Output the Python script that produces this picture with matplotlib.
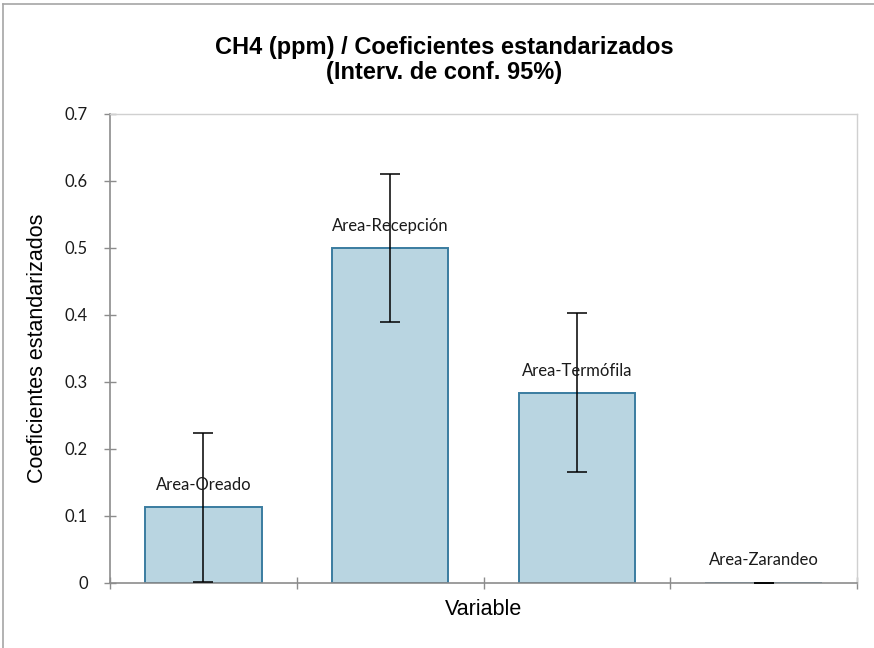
import matplotlib
matplotlib.use("Agg")
import matplotlib.pyplot as plt
from matplotlib.lines import Line2D
import numpy as np

categories = ["Area-Oreado", "Area-Recepción", "Area-Termófila", "Area-Zarandeo"]
values = [0.113, 0.499, 0.283, 0.0]
err_low = [0.0015, 0.389, 0.165, 0.0]
err_high = [0.224, 0.610, 0.402, 0.0]
yticks = [0, 0.1, 0.2, 0.3, 0.4, 0.5, 0.6, 0.7]
ytick_labels = ["0", "0.1", "0.2", "0.3", "0.4", "0.5", "0.6", "0.7"]

title = "CH4 (ppm) / Coeficientes estandarizados\n(Interv. de conf. 95%)"
xlabel = "Variable"
ylabel = "Coeficientes estandarizados"

fig = plt.figure(figsize=(8.74, 6.48), dpi=100)
ax = fig.add_axes([110/874, 1-582.7/648, (857-110)/874, (582.7-113.5)/648])

x = np.arange(len(categories))
vals = np.array(values)
yerr = np.vstack([vals - np.array(err_low), np.array(err_high) - vals])

ax.bar(x, vals, width=0.625, color="#B9D5E1", edgecolor="#3A7CA0", linewidth=1.4, zorder=2)
ax.errorbar(x, vals, yerr=yerr, fmt="none", ecolor="black", elinewidth=1.1,
            capsize=7.5, capthick=1.1, zorder=3)

for xi, v, lab in zip(x, vals, categories):
    ax.annotate(lab, (xi, v), xytext=(0, 16), textcoords="offset points",
                ha="center", va="center", fontsize=12, family="Lato", color="#1a1a1a", zorder=4)

ax.set_xlim(-0.5, len(categories) - 0.5)
ax.set_ylim(0, 0.7)
ax.set_yticks(yticks)
ax.set_yticklabels(ytick_labels, family="Lato", fontsize=12, color="#1a1a1a")
ax.set_xticks(np.arange(len(categories) + 1) - 0.5)
ax.set_xticklabels([])

ax.tick_params(axis="y", direction="inout", length=8, width=1, color="#8C8C8C", pad=12)
ax.tick_params(axis="x", direction="inout", length=8, width=1, color="#8C8C8C")

for s in ["left", "bottom"]:
    ax.spines[s].set_color("#8C8C8C")
    ax.spines[s].set_linewidth(1.2)
for s in ["top", "right"]:
    ax.spines[s].set_color("#D0D0D0")
    ax.spines[s].set_linewidth(1.0)

ax.set_xlabel(xlabel, family="Liberation Sans", fontsize=15.5, labelpad=4)
ax.set_ylabel(ylabel, family="Liberation Sans", fontsize=15.5, labelpad=12)

fig.text(0.508, 1-60/648, title, ha="center", va="center", family="Liberation Sans",
         fontweight="bold", fontsize=17, linespacing=1.15)

# outer chart frame (top and left visible)
fig.add_artist(Line2D([3/874, 3/874], [0, 1-4/648], transform=fig.transFigure, color="#A6A6A6", lw=1.2))
fig.add_artist(Line2D([3/874, 1], [1-4/648, 1-4/648], transform=fig.transFigure, color="#A6A6A6", lw=1.2))

fig.savefig("out.png", dpi=100)
